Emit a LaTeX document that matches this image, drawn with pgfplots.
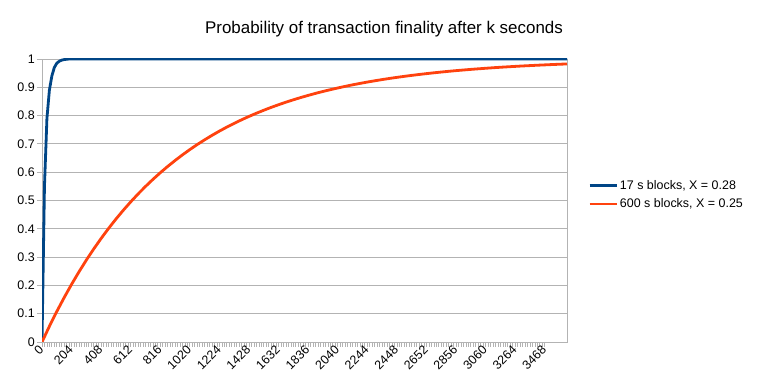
\documentclass[border=0pt]{standalone}
\usepackage{pgfplots}
\pgfplotsset{compat=1.18}
\usepackage{fontspec}
\setmainfont{Liberation Sans}
\definecolor{lblue}{HTML}{004586}
\definecolor{lorange}{HTML}{FF420E}
\definecolor{lgray}{HTML}{B3B3B3}
\begin{document}
\begin{tikzpicture}
\useasboundingbox (0,0) rectangle (765bp,391bp);
\node[font=\fontsize{17}{20}\selectfont] at (384bp,362bp) {Probability of transaction finality after k seconds};
\begin{axis}[
  at={(42bp,49bp)}, anchor=south west, scale only axis,
  width=525bp, height=283bp,
  xmin=0, xmax=3621, ymin=0, ymax=1,
  xtick={0,204,...,3468}, minor x tick num=11,
  ytick={0,0.1,0.2,0.3,0.4,0.5,0.6,0.7,0.8,0.9,1},
  /pgf/number format/assume math mode=true,
  /pgf/number format/1000 sep={},
  tick label style={font=\fontsize{12.5}{14}\selectfont},
  xticklabel style={rotate=45, anchor=east, inner sep=1bp},
  yticklabel style={inner sep=2bp},
  tick align=outside, tick pos=left,
  major tick length=5bp, minor tick length=5bp,
  tick style={lgray, line width=0.8bp},
  axis line style={lgray, line width=0.8bp},
  ymajorgrids, grid style={lgray, line width=0.8bp},
  legend style={at={(1.04,0.52)}, anchor=west, draw=none, fill=none,
    font=\fontsize{12.5}{14}\selectfont, row sep=4bp, inner sep=0pt},
  legend cell align=left,
  legend image code/.code={\draw[#1] (0bp,0bp) -- (27bp,0bp);},
]
\addplot[lblue, line width=2.8bp, line join=round, no marks] coordinates {
(0,0) (17,0.55) (34,0.79) (51,0.89) (68,0.94) (85,0.97) (102,0.985)
(119,0.992) (136,0.996) (153,0.998) (170,0.999) (187,1) (3621,1)
};
\addlegendentry{17 s blocks, X = 0.28}
\addplot[lorange, line width=2.8bp, line join=round, no marks] coordinates {
(0,0) (51,0.0554) (102,0.1077) (153,0.1571) (204,0.2038) (255,0.2479)
(306,0.2896) (357,0.3289) (408,0.3661) (459,0.4012) (510,0.4344)
(561,0.4657) (612,0.4953) (663,0.5233) (714,0.5497) (765,0.5746)
(816,0.5982) (867,0.6204) (918,0.6414) (969,0.6613) (1020,0.6801)
(1071,0.6978) (1122,0.7145) (1173,0.7303) (1224,0.7453) (1275,0.7594)
(1326,0.7727) (1377,0.7853) (1428,0.7972) (1479,0.8084) (1530,0.8190)
(1581,0.8291) (1632,0.8385) (1683,0.8475) (1734,0.8559) (1785,0.8639)
(1836,0.8714) (1887,0.8786) (1938,0.8853) (1989,0.8916) (2040,0.8976)
(2091,0.9033) (2142,0.9087) (2193,0.9137) (2244,0.9185) (2295,0.9230)
(2346,0.9273) (2397,0.9313) (2448,0.9351) (2499,0.9387) (2550,0.9421)
(2601,0.9453) (2652,0.9483) (2703,0.9512) (2754,0.9539) (2805,0.9565)
(2856,0.9589) (2907,0.9611) (2958,0.9633) (3009,0.9653) (3060,0.9672)
(3111,0.9691) (3162,0.9708) (3213,0.9724) (3264,0.9739) (3315,0.9754)
(3366,0.9767) (3417,0.9780) (3468,0.9792) (3519,0.9804) (3570,0.9815)
(3621,0.9825)
};
\addlegendentry{600 s blocks, X = 0.25}
\end{axis}
\end{tikzpicture}
\end{document}
